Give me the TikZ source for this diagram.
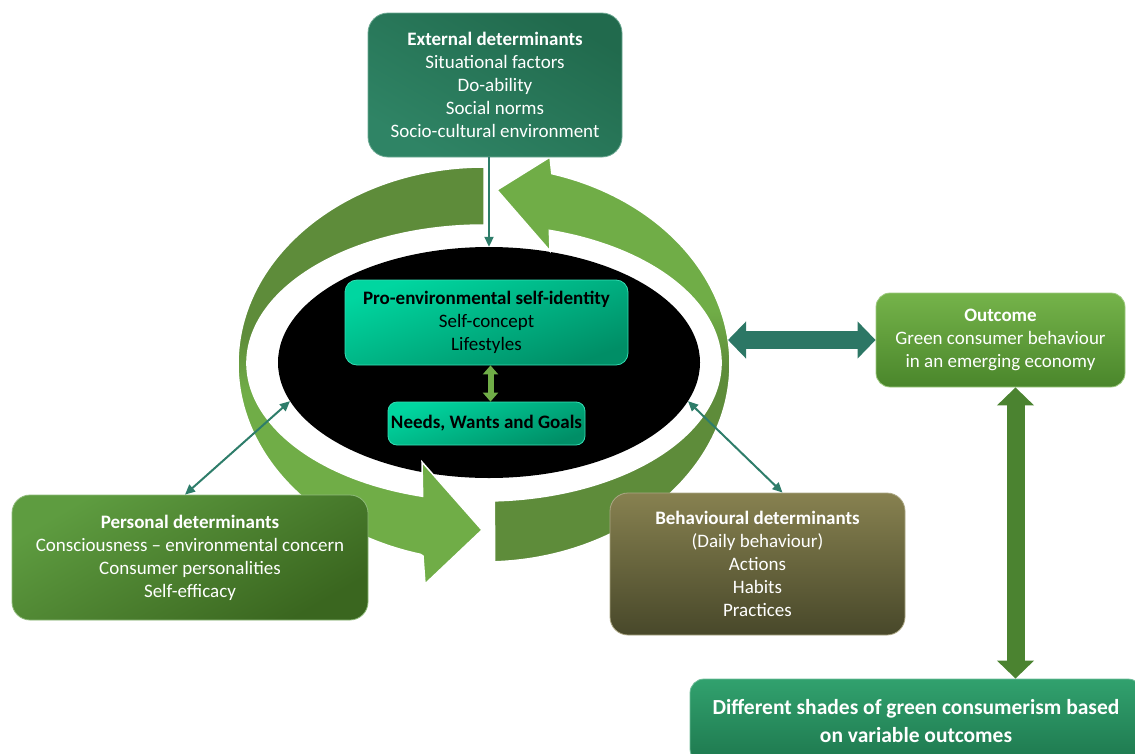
\documentclass[tikz,border=0pt]{standalone}
\usepackage{fontspec}
\setmainfont{Carlito}
\usetikzlibrary{shapes.geometric, arrows.meta, positioning}

\definecolor{tealA}{HTML}{216A4D}
\definecolor{tealB}{HTML}{2F8465}
\definecolor{tealline}{HTML}{2E7D6A}
\definecolor{mintA}{HTML}{00D6A0}
\definecolor{mintB}{HTML}{008E66}
\definecolor{leafA}{HTML}{5E9C40}
\definecolor{leafB}{HTML}{3A661F}
\definecolor{oliveA}{HTML}{878150}
\definecolor{oliveB}{HTML}{48482A}
\definecolor{grassA}{HTML}{75B34A}
\definecolor{grassB}{HTML}{4A862B}
\definecolor{shadeA}{HTML}{31A16E}
\definecolor{shadeB}{HTML}{1E784E}
\definecolor{ringlight}{HTML}{70AD47}
\definecolor{ringdark}{HTML}{5E8C3A}
\definecolor{stemgreen}{HTML}{4B8330}

\pgfdeclareverticalshading{ringleft}{100bp}{color(0bp)=(ringlight); color(48bp)=(ringlight); color(55bp)=(ringdark); color(100bp)=(ringdark)}
\pgfdeclareverticalshading{ringright}{100bp}{color(0bp)=(ringdark); color(49bp)=(ringdark); color(56bp)=(ringlight); color(100bp)=(ringlight)}

\tikzset{
  box/.style={rounded corners=16pt, align=center, inner sep=0pt, text=white,
    font=\fontsize{19}{23}\selectfont, line width=0.8pt},
  thinlink/.style={tealline, line width=2pt},
  blocklink/.style={line width=18pt, {Triangle[length=18pt,width=36pt]}-{Triangle[length=18pt,width=36pt]}},
  ringarrow/.style={draw=white, line width=1.5pt}
}

\begin{document}
\begin{tikzpicture}[x=1pt, y=1pt]
  \useasboundingbox (0,0) rectangle (1135,-753);

  % Black core
  \node[ellipse, fill=black, minimum width=422pt, minimum height=231pt, inner sep=0pt] (core) at (489,-362.5) {};

  % Left ring arrow (top -> bottom)
  \path[ringarrow, shading=ringleft] (484,-167)
    arc[start angle=90, end angle=255, x radius=246pt, y radius=197pt]
    -- (423,-556) -- (425,-584) -- (482,-530) -- (422,-462)
    -- ([shift={(484,-363)}]255:237pt and 138pt)
    arc[start angle=255, end angle=90, x radius=237pt, y radius=138pt] -- cycle;

  % Right ring arrow (bottom -> top)
  \path[ringarrow, shading=ringright] ([shift={(484,-364)}]-87.5:246pt and 198pt)
    arc[start angle=-87.5, end angle=74, x radius=246pt, y radius=198pt]
    -- (550,-157) -- (497,-190) -- (550,-251)
    -- ([shift={(484,-363)}]74:237pt and 138pt)
    arc[start angle=74, end angle=-87.5, x radius=237pt, y radius=138pt] -- cycle;

  % Inner boxes
  \node[box, text=black, rounded corners=12pt, draw=mintA!80!white, top color=mintA, bottom color=mintB, shading angle=20,
    minimum width=283pt, minimum height=85pt] (pro) at (486.5,-322.5)
    {\textbf{Pro-environmental self-identity}\\Self-concept\\Lifestyles};
  \node[box, text=black, rounded corners=9pt, draw=mintA!80!white, top color=mintA, bottom color=mintB, shading angle=20,
    minimum width=197pt, minimum height=43pt] (needs) at (486.5,-423.5)
    {\textbf{Needs, Wants and Goals}};

  % Determinant boxes
  \node[box, rounded corners=20pt, draw=tealB!70!white, top color=tealA, bottom color=tealB, shading angle=-30,
    minimum width=254pt, minimum height=144pt] (ext) at (495,-85)
    {\textbf{External determinants}\\Situational factors\\Do-ability\\Social norms\\Socio-cultural environment};
  \node[box, rounded corners=18pt, draw=leafA!70!white, top color=leafA, bottom color=leafB, shading angle=30,
    minimum width=356pt, minimum height=125pt] (personal) at (190,-557.5)
    {\textbf{Personal determinants}\\Consciousness -- environmental concern\\Consumer personalities\\Self-efficacy};
  \node[box, rounded corners=18pt, draw=oliveA!70!white, top color=oliveA, bottom color=oliveB,
    minimum width=295pt, minimum height=142pt] (behav) at (757.5,-564)
    {\textbf{Behavioural determinants}\\(Daily behaviour)\\Actions\\Habits\\Practices};

  % Outcome boxes
  \node[box, rounded corners=14pt, draw=grassA!70!white, top color=grassA, bottom color=grassB,
    minimum width=249pt, minimum height=94pt] (outcome) at (1000.5,-340)
    {\textbf{Outcome}\\Green consumer behaviour\\in an emerging economy};
  \node[box, rounded corners=14pt, draw=shadeA!70!white, top color=shadeA, bottom color=shadeB,
    font=\fontsize{21.5}{28}\selectfont\bfseries,
    minimum width=452pt, minimum height=84pt] (shades) at (916,-721)
    {Different shades of green consumerism based\\on variable outcomes};

  % Links to the core
  \draw[thinlink, -{Triangle[length=10pt,width=9pt]}] (core.north |- ext.south) -- (core.north);
  \draw[thinlink, {Triangle[length=10pt,width=9pt]}-{Triangle[length=10pt,width=9pt]}] ([xshift=-5pt]personal.north) -- (core.191);
  \draw[thinlink, {Triangle[length=10pt,width=9pt]}-{Triangle[length=10pt,width=9pt]}] ([xshift=25pt]behav.north) -- (core.349);
  \draw[ringlight, line width=6pt, {Triangle[length=9pt,width=15pt]}-{Triangle[length=9pt,width=15pt]}]
    ([xshift=4pt]pro.south) -- ([xshift=4pt]needs.north);

  % Block arrows
  \coordinate (ringE) at (728,-340);
  \draw[blocklink, tealline!95!black] (ringE) -- (outcome.west);
  \draw[blocklink, stemgreen] ([xshift=15pt]outcome.south) -- ([xshift=15pt]outcome.south |- shades.north);
\end{tikzpicture}
\end{document}
